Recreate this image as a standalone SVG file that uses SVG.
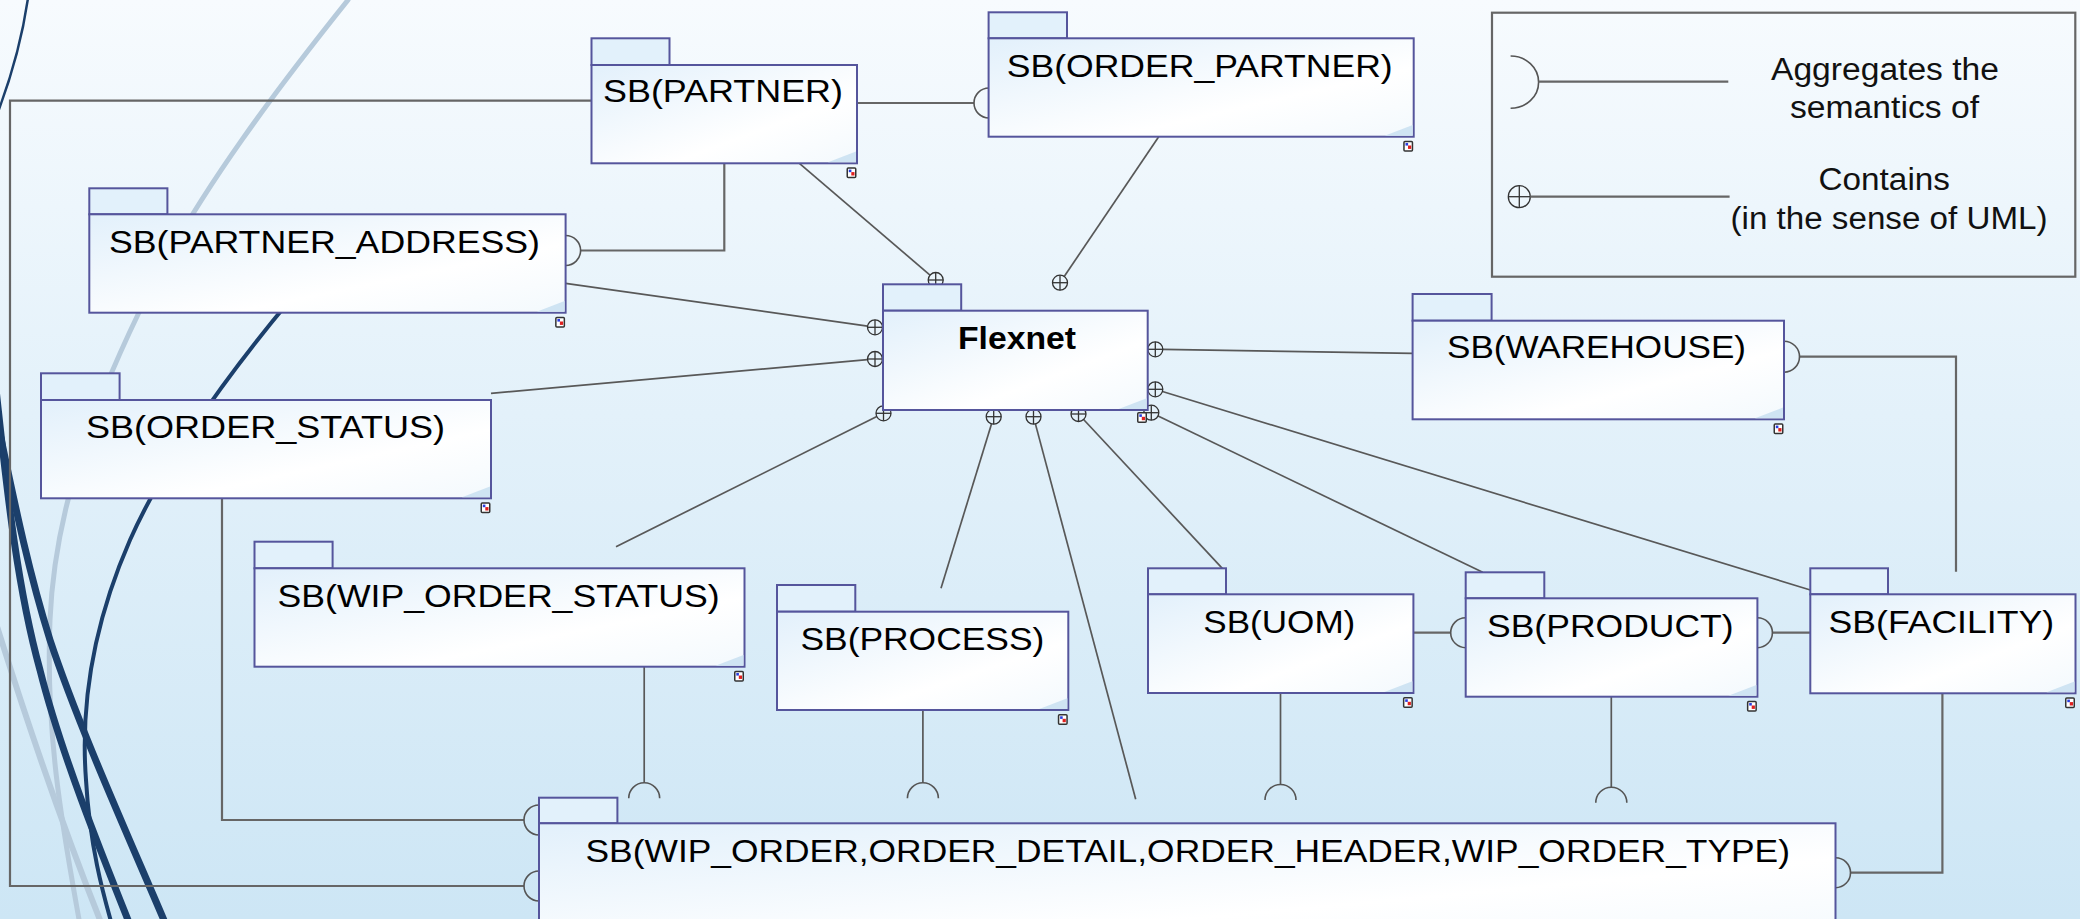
<svg xmlns="http://www.w3.org/2000/svg" xmlns:xlink="http://www.w3.org/1999/xlink" width="2080" height="919" viewBox="0 0 2080 919">
<style>
.lbl{font-family:"Liberation Sans",Arial,sans-serif;font-size:32px;fill:#000}
.leg{font-family:"Liberation Sans",Arial,sans-serif;font-size:31px;fill:#111}
.body{fill:url(#boxg);stroke:#55559c;stroke-width:2}
.tab{fill:#e2f1fb;stroke:#55559c;stroke-width:2}
.curl{fill:#cfe4f3}
.con{fill:none;stroke:#585858;stroke-width:1.7}
.ortho{fill:none;stroke:#666;stroke-width:2.2}
.arc{fill:none;stroke:#555;stroke-width:1.6}
.plus{fill:none;stroke:#333;stroke-width:1.3}
.dark{fill:none;stroke:#1b3f6b;stroke-linecap:round}
.light{fill:none;stroke:#b6cadb;stroke-linecap:round}
</style>
<defs>
<linearGradient id="bg" x1="0" y1="0" x2="0" y2="1">
<stop offset="0" stop-color="#f7fbfe"/>
<stop offset="0.45" stop-color="#e3f1fa"/>
<stop offset="1" stop-color="#cde6f5"/>
</linearGradient>
<linearGradient id="boxg" x1="0" y1="0" x2="1" y2="1">
<stop offset="0" stop-color="#e2f0fb"/>
<stop offset="0.65" stop-color="#ffffff"/>
<stop offset="1" stop-color="#f3f9fd"/>
</linearGradient>
<symbol id="ico" viewBox="0 0 10 11" width="10" height="11" overflow="visible">
<rect x="0.75" y="0.75" width="8.5" height="9.5" rx="1" fill="#fff" stroke="#333" stroke-width="1.5"/>
<rect x="2.3" y="2.3" width="2.6" height="2.6" fill="#2a3de0"/>
<rect x="4.8" y="4.8" width="3.2" height="3.4" fill="#e02020"/>
</symbol>
<g id="plus">
<circle r="7.5" class="plus"/>
<line x1="-7.5" y1="0" x2="7.5" y2="0" class="plus"/>
<line x1="0" y1="-7.5" x2="0" y2="7.5" class="plus"/>
</g>
</defs>
<rect x="0" y="0" width="2080" height="919" fill="url(#bg)"/>
<g id="background-curves">
<path class="light" stroke-width="5" d="M348,0 C280,85 200,190 150,290 C100,390 55,500 50,620 C45,740 65,840 80,925"/>
<path class="light" stroke-width="6" d="M-5,620 C20,700 60,820 102,925"/>
<path class="dark" stroke-width="2.5" d="M28,-2 C22,40 10,80 -2,112"/>
<path class="dark" stroke-width="4" d="M290,300 C240,360 170,450 130,540 C95,620 80,700 86,780 C90,850 105,900 112,925"/>
<path class="dark" stroke-width="7" d="M-5,380 C5,470 15,580 40,670 C60,750 100,850 130,925"/>
<path class="dark" stroke-width="7" d="M-5,410 C10,480 25,560 50,640 C80,730 130,840 166,925"/>
</g>
<g id="connectors">
<polyline class="ortho" points="591.5,100.7 10,100.7 10,886 524,886"/>
<path class="arc" d="M539,871 A15,15 0 0 0 539,901"/>
<line class="ortho" x1="857" y1="103" x2="974" y2="103"/>
<path class="arc" d="M989,88 A15,15 0 0 0 989,118"/>
<polyline class="ortho" points="724.3,163.3 724.3,250.5 581,250.5"/>
<path class="arc" d="M565.6,235.5 A15,15 0 0 1 565.6,265.5"/>
<line class="con" x1="799.4" y1="163.3" x2="930" y2="275.1"/>
<line class="con" x1="1158.7" y1="136.7" x2="1064.2" y2="276.5"/>
<line class="con" x1="565.6" y1="283.3" x2="867.6" y2="326.2"/>
<line class="con" x1="491" y1="393.3" x2="867.5" y2="359.7"/>
<line class="con" x1="616" y1="546.7" x2="876.8" y2="416.6"/>
<line class="con" x1="941" y1="588.3" x2="991.5" y2="423.9"/>
<line class="con" x1="1135.7" y1="799.3" x2="1035.4" y2="423.9"/>
<line class="con" x1="1222.3" y1="568.3" x2="1083.6" y2="419.5"/>
<line class="con" x1="1412.6" y1="353.3" x2="1162.8" y2="349.4"/>
<line class="con" x1="1810.3" y1="590" x2="1162.5" y2="391.5"/>
<line class="con" x1="1482.7" y1="572.3" x2="1158.1" y2="416"/>
<use href="#plus" x="935.7" y="280"/>
<use href="#plus" x="1060" y="282.7"/>
<use href="#plus" x="875" y="327.3"/>
<use href="#plus" x="875" y="359"/>
<use href="#plus" x="883.5" y="413.3"/>
<use href="#plus" x="993.7" y="416.7"/>
<use href="#plus" x="1033.5" y="416.7"/>
<use href="#plus" x="1078.5" y="414"/>
<use href="#plus" x="1155.3" y="349.3"/>
<use href="#plus" x="1155.3" y="389.3"/>
<use href="#plus" x="1151.3" y="412.7"/>
<polyline class="ortho" points="1799.5,356.7 1956,356.7 1956,571.7"/>
<path class="arc" d="M1784,341.2 A15.5,15.5 0 0 1 1784,372.2"/>
<line class="ortho" x1="1413.4" y1="632.7" x2="1450.7" y2="632.7"/>
<path class="arc" d="M1465.7,617.7 A15,15 0 0 0 1465.7,647.7"/>
<line class="ortho" x1="1810.3" y1="632.7" x2="1772.4" y2="632.7"/>
<path class="arc" d="M1757.4,617.7 A15,15 0 0 1 1757.4,647.7"/>
<polyline class="ortho" points="1942.4,693.3 1942.4,872.7 1850.5,872.7"/>
<path class="arc" d="M1835.5,857.7 A15,15 0 0 1 1835.5,887.7"/>
<polyline class="ortho" points="222,498.3 222,820 524,820"/>
<path class="arc" d="M539,805 A15,15 0 0 0 539,835"/>
<line class="con" x1="644.2" y1="666.7" x2="644.2" y2="782.8"/>
<path class="arc" d="M628.7,798.3 A15.5,15.5 0 0 1 659.7,798.3"/>
<line class="con" x1="922.9" y1="710" x2="922.9" y2="782.8"/>
<path class="arc" d="M907.4,798.3 A15.5,15.5 0 0 1 938.4,798.3"/>
<line class="con" x1="1280.5" y1="693" x2="1280.5" y2="784.5"/>
<path class="arc" d="M1265,800 A15.5,15.5 0 0 1 1296,800"/>
<line class="con" x1="1611.3" y1="696.7" x2="1611.3" y2="787.2"/>
<path class="arc" d="M1595.8,802.7 A15.5,15.5 0 0 1 1626.8,802.7"/>
</g>
<g id="node-partner">
<rect class="tab" x="591.5" y="38.3" width="78" height="26.7"/>
<rect class="body" x="591.5" y="65" width="265.5" height="98.3"/>
<polygon class="curl" points="828,162.3 856,151.5 856,162.3"/>
<text class="lbl" x="603" y="101.7" textLength="240" lengthAdjust="spacingAndGlyphs">SB(PARTNER)</text>
<use href="#ico" x="846.5" y="167.3"/>
</g>
<g id="node-order-partner">
<rect class="tab" x="988.6" y="12.3" width="78.4" height="26"/>
<rect class="body" x="988.6" y="38.3" width="425.1" height="98.4"/>
<polygon class="curl" points="1384.7,135.7 1412.7,124.9 1412.7,135.7"/>
<text class="lbl" x="1006.7" y="77.3" textLength="386" lengthAdjust="spacingAndGlyphs">SB(ORDER_PARTNER)</text>
<use href="#ico" x="1403.2" y="140.7"/>
</g>
<g id="node-partner-address">
<rect class="tab" x="89.3" y="188.3" width="78.1" height="26"/>
<rect class="body" x="89.3" y="214.3" width="476.3" height="98.4"/>
<polygon class="curl" points="536.6,311.7 564.6,300.9 564.6,311.7"/>
<text class="lbl" x="109" y="253.3" textLength="431" lengthAdjust="spacingAndGlyphs">SB(PARTNER_ADDRESS)</text>
<use href="#ico" x="555.1" y="316.7"/>
</g>
<g id="node-order-status">
<rect class="tab" x="41" y="373.3" width="78.6" height="26.7"/>
<rect class="body" x="41" y="400" width="450" height="98.3"/>
<polygon class="curl" points="462,497.3 490,486.5 490,497.3"/>
<text class="lbl" x="86" y="438.3" textLength="359" lengthAdjust="spacingAndGlyphs">SB(ORDER_STATUS)</text>
<use href="#ico" x="480.5" y="502.3"/>
</g>
<g id="node-wip-order-status">
<rect class="tab" x="254.5" y="541.7" width="78.1" height="26.6"/>
<rect class="body" x="254.5" y="568.3" width="490" height="98.4"/>
<polygon class="curl" points="715.5,665.7 743.5,654.9 743.5,665.7"/>
<text class="lbl" x="277.5" y="606.7" textLength="442" lengthAdjust="spacingAndGlyphs">SB(WIP_ORDER_STATUS)</text>
<use href="#ico" x="734" y="670.7"/>
</g>
<g id="node-process">
<rect class="tab" x="777" y="585" width="78.3" height="26.7"/>
<rect class="body" x="777" y="611.7" width="291.3" height="98.3"/>
<polygon class="curl" points="1039.3,709 1067.3,698.2 1067.3,709"/>
<text class="lbl" x="800.4" y="650" textLength="244" lengthAdjust="spacingAndGlyphs">SB(PROCESS)</text>
<use href="#ico" x="1057.8" y="714"/>
</g>
<g id="node-flexnet">
<rect class="tab" x="883" y="284.3" width="78.2" height="26.4"/>
<rect class="body" x="883" y="310.7" width="264.7" height="99.3"/>
<polygon class="curl" points="1118.7,409 1146.7,398.2 1146.7,409"/>
<text class="lbl" x="958" y="349.3" font-weight="bold" textLength="118" lengthAdjust="spacingAndGlyphs">Flexnet</text>
<use href="#ico" x="1137" y="412"/>
</g>
<g id="node-uom">
<rect class="tab" x="1148" y="568.3" width="78" height="26"/>
<rect class="body" x="1148" y="594.3" width="265.4" height="98.7"/>
<polygon class="curl" points="1384.4,692 1412.4,681.2 1412.4,692"/>
<text class="lbl" x="1203.3" y="633.3" textLength="152" lengthAdjust="spacingAndGlyphs">SB(UOM)</text>
<use href="#ico" x="1402.9" y="697"/>
</g>
<g id="node-product">
<rect class="tab" x="1465.7" y="572.3" width="78.6" height="26"/>
<rect class="body" x="1465.7" y="598.3" width="291.7" height="98.4"/>
<polygon class="curl" points="1728.4,695.7 1756.4,684.9 1756.4,695.7"/>
<text class="lbl" x="1487" y="637.3" textLength="246.6" lengthAdjust="spacingAndGlyphs">SB(PRODUCT)</text>
<use href="#ico" x="1746.9" y="700.7"/>
</g>
<g id="node-facility">
<rect class="tab" x="1810.3" y="568.3" width="77.7" height="26"/>
<rect class="body" x="1810.3" y="594.3" width="265.2" height="99"/>
<polygon class="curl" points="2046.5,692.3 2074.5,681.5 2074.5,692.3"/>
<text class="lbl" x="1828.6" y="633.3" textLength="225.4" lengthAdjust="spacingAndGlyphs">SB(FACILITY)</text>
<use href="#ico" x="2065" y="697.3"/>
</g>
<g id="node-warehouse">
<rect class="tab" x="1412.6" y="294" width="79" height="26.7"/>
<rect class="body" x="1412.6" y="320.7" width="371.4" height="98.6"/>
<polygon class="curl" points="1755,418.3 1783,407.5 1783,418.3"/>
<text class="lbl" x="1447" y="358.3" textLength="299" lengthAdjust="spacingAndGlyphs">SB(WAREHOUSE)</text>
<use href="#ico" x="1773.5" y="423.3"/>
</g>
<g id="node-wip-order">
<rect class="tab" x="539" y="797.7" width="78.4" height="25.6"/>
<rect class="body" x="539" y="823.3" width="1296.5" height="120"/>
<text class="lbl" x="585.5" y="861.7" textLength="1204.5" lengthAdjust="spacingAndGlyphs">SB(WIP_ORDER,ORDER_DETAIL,ORDER_HEADER,WIP_ORDER_TYPE)</text>
</g>
<g id="legend">
<rect x="1492" y="12.7" width="583.3" height="264" fill="none" stroke="#666" stroke-width="2.2"/>
<path class="arc" d="M1510.6,56 A28,26.15 0 0 1 1510.6,108.3"/>
<line class="ortho" x1="1538.6" y1="81.7" x2="1728.3" y2="81.7"/>
<circle cx="1519.3" cy="196.7" r="11" class="plus"/>
<line x1="1508.3" y1="196.7" x2="1530.3" y2="196.7" class="plus"/>
<line x1="1519.3" y1="185.7" x2="1519.3" y2="207.7" class="plus"/>
<line class="ortho" x1="1530.3" y1="196.7" x2="1729.6" y2="196.7"/>
<text class="leg" x="1771" y="80" textLength="228" lengthAdjust="spacingAndGlyphs">Aggregates the</text>
<text class="leg" x="1790" y="118.3" textLength="189" lengthAdjust="spacingAndGlyphs">semantics of</text>
<text class="leg" x="1818.5" y="190" textLength="131.5" lengthAdjust="spacingAndGlyphs">Contains</text>
<text class="leg" x="1730.5" y="229.3" textLength="317" lengthAdjust="spacingAndGlyphs">(in the sense of UML)</text>
</g>
</svg>
